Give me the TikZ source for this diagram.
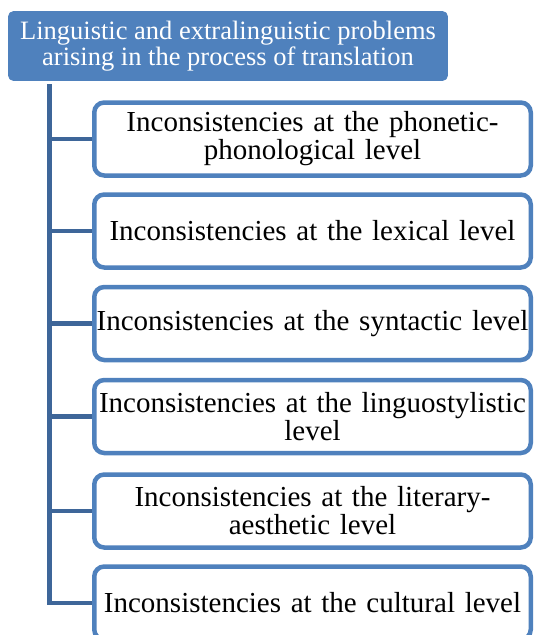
\documentclass[tikz,border=0pt]{standalone}
\usepackage{fontspec}
\setmainfont{Liberation Serif}
\definecolor{boxblue}{HTML}{4F81BD}
\definecolor{linkblue}{HTML}{3E6699}
\begin{document}
\begin{tikzpicture}[x=1pt,y=-1pt,
  headbox/.style={fill=boxblue, draw=boxblue, line width=0.8pt, rounded corners=5pt,
    text=white, minimum width=439pt, minimum height=69pt, inner sep=0pt,
    align=center, font=\fontsize{26.5}{25.5}\selectfont},
  levelbox/.style={draw=boxblue, fill=white, line width=4.5pt, rounded corners=10pt,
    text=black, text width=434pt, inner xsep=1.25pt, inner ysep=0pt,
    minimum height=73pt, align=center, font=\fontsize{29}{28}\selectfont},
  link/.style={draw=linkblue, line width=4.5pt}]
\useasboundingbox (0,0) rectangle (535,635);
\node[headbox] (head) at (228,46) {Linguistic and extralinguistic problems\\arising in the process of translation};
\coordinate (trunk) at (49.5,84);
\node[levelbox] (b1) at (312.5,139) {Inconsistencies at the phonetic-\\phonological level};
\node[levelbox] (b2) at (312.5,231) {Inconsistencies at the lexical level};
\node[levelbox] (b3) at (312.5,323.5) {Inconsistencies at the syntactic level};
\node[levelbox] (b4) at (312.5,416.5) {Inconsistencies at the linguostylistic\\level};
\node[levelbox] (b5) at (312.5,511) {Inconsistencies at the literary-\\aesthetic level};
\node[levelbox] (b6) at (312.5,603) {Inconsistencies at the cultural level};
\coordinate (trunkend) at (b6.west -| trunk);
\begin{scope}[on background layer/.style={}]
\draw[link] (trunk) -- (trunkend) -- (b6.west);
\foreach \b in {b1,b2,b3,b4,b5} {
  \draw[link] (\b.west -| trunk) -- (\b.west);
}
\end{scope}
\end{tikzpicture}
\end{document}
